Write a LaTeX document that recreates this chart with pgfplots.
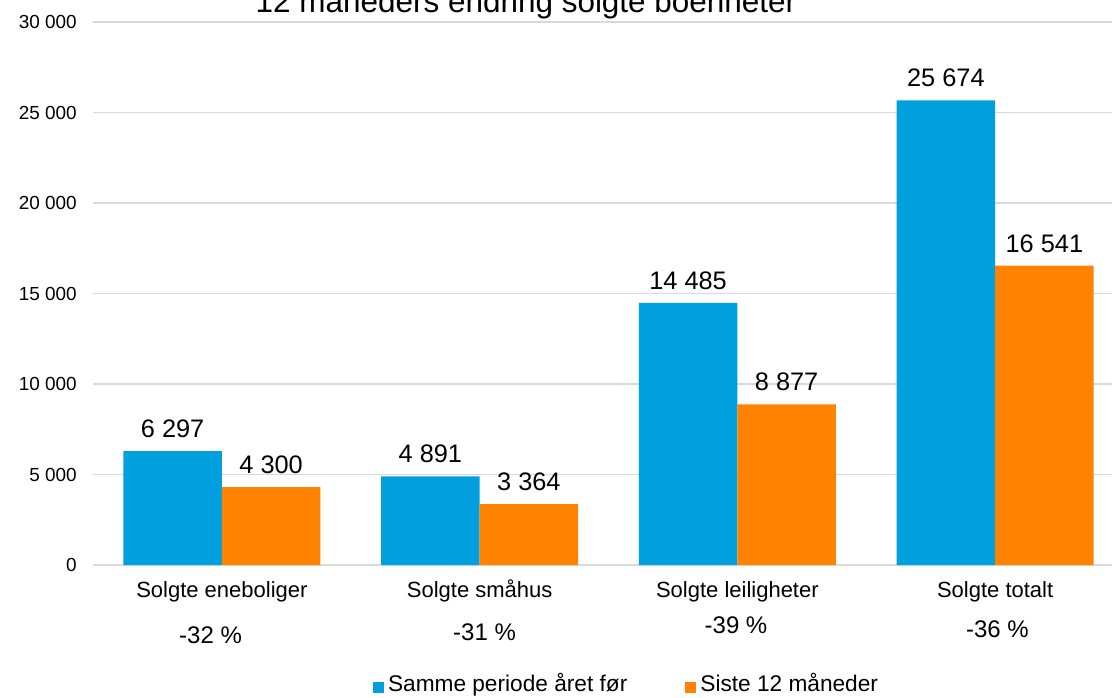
\documentclass[border=0pt]{standalone}
\usepackage{fontspec}
\setmainfont{Liberation Sans}
\usepackage{pgfplots}
\pgfplotsset{compat=1.18}

\definecolor{barblue}{RGB}{0,160,223}
\definecolor{barorange}{RGB}{255,131,0}
\definecolor{gridgray}{RGB}{217,217,217}

\begin{document}
\begin{tikzpicture}[x=1pt,y=1pt]
\begin{axis}[
  at={(69.75pt,99pt)}, anchor=south west,
  scale only axis, width=773.25pt, height=407.25pt,
  ybar=0pt, bar width=73.875pt,
  xmin=-0.5, xmax=3.5, ymin=0, ymax=30000,
  enlargelimits=false, clip=false,
  xtick={0,1,2,3},
  xticklabels={Solgte eneboliger,Solgte småhus,Solgte leiligheter,Solgte totalt},
  ytick={0,5000,...,30000},
  scaled y ticks=false,
  /pgf/number format/.cd, fixed, precision=0, 1000 sep={\ }, assume math mode=true,
  /pgfplots/.cd,
  axis line style={draw=none},
  major tick length=0pt,
  ymajorgrids, grid style={draw=gridgray, line width=1pt},
  yticklabel style={font=\fontsize{14.2pt}{17pt}\selectfont, anchor=east, inner sep=0pt, xshift=-12pt},
  xticklabel style={font=\fontsize{16.5pt}{20pt}\selectfont, anchor=base, inner sep=0pt, yshift=-24pt},
  nodes near coords,
  every node near coord/.append style={font=\fontsize{19pt}{22pt}\selectfont, anchor=south, inner sep=0pt, yshift=9.75pt, text=black},
  legend columns=2,
  legend style={draw=none, fill=none, inner sep=0pt, outer sep=0pt,
    at={(axis description cs:0.2716,-0.2261)}, anchor=west,
    font=\fontsize{17pt}{20pt}\selectfont,
    nodes={inner sep=0pt, text height=0.8em, text depth=0.25em},
    /tikz/every odd column/.append style={column sep=3pt},
    /tikz/every even column/.append style={column sep=43.5pt}},
]
\addplot[fill=barblue, draw=none,
  legend image code/.code={\fill[barblue] (0pt,-4.125pt) rectangle (8.25pt,4.125pt);}]
  coordinates {(0,6297) (1,4891) (2,14485) (3,25674)};
\addplot[fill=barorange, draw=none,
  legend image code/.code={\fill[barorange] (0pt,-4.125pt) rectangle (8.25pt,4.125pt);}]
  coordinates {(0,4300) (1,3364) (2,8877) (3,16541)};
\legend{Samme periode året før, Siste 12 måneder}
\end{axis}

% change over twelve months, under each category
\begin{scope}[every node/.style={font=\fontsize{18pt}{21pt}\selectfont, anchor=base, inner sep=0pt}]
\node at (157.9pt,40.5pt) {-32 \%};
\node at (363.4pt,42.75pt) {-31 \%};
\node at (552pt,48pt) {-39 \%};
\node at (748.1pt,45pt) {-36 \%};
\end{scope}

\node[font=\fontsize{23.6pt}{28pt}\selectfont, anchor=base, inner sep=0pt] at (394.5pt,513pt)
  {12 måneders endring solgte boenheter};

\pgfresetboundingbox
\useasboundingbox (0,0) rectangle (834pt,522.75pt);
\end{tikzpicture}
\end{document}
